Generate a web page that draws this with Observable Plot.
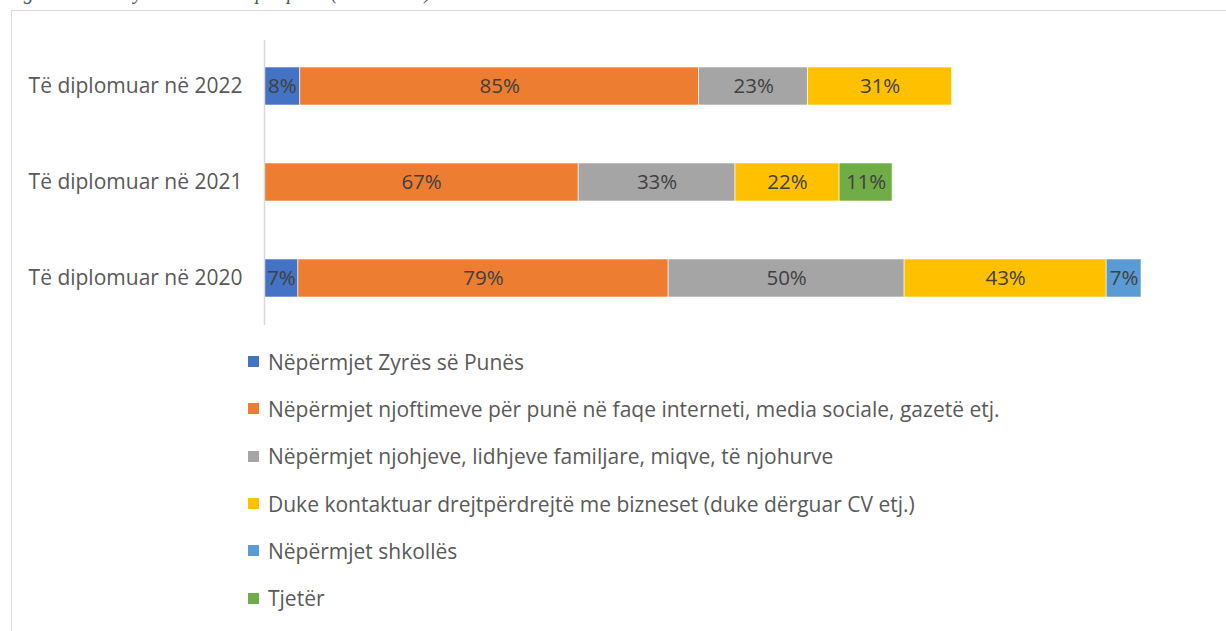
<!DOCTYPE html>
<html>
<head>
<meta charset="utf-8">
<script src="https://cdn.jsdelivr.net/npm/d3@7"></script>
<script src="https://cdn.jsdelivr.net/npm/@observablehq/plot@0.6"></script>
<style>
  html, body { margin: 0; padding: 0; background: #fff; width: 1226px; height: 631px; overflow: hidden; }
  #frame { position: absolute; left: 11px; top: 10px; width: 1300px; height: 700px; border-left: 1.5px solid #d9d9d9; border-top: 1.5px solid #d9d9d9; }
  #caption { position: absolute; left: 6px; top: -19px; font-family: "Liberation Serif", serif; font-style: italic; font-size: 20px; color: #44546A; white-space: nowrap; }
  #chart { position: absolute; left: 0; top: 0; }
  #legend { position: absolute; left: 248px; top: 338px; font-family: "Open Sans", Lato, sans-serif; font-size: 21px; color: #595959; }
  .item { height: 47.3px; display: flex; align-items: center; white-space: nowrap; }
  .sw { width: 11px; height: 11px; margin-right: 9px; flex: none; }
</style>
</head>
<body>
<div id="caption">Figura 30: Mënyrat e kërkimit për punë (2020-2022)</div>
<div id="frame"></div>
<div id="chart"></div>
<div id="legend"></div>
<script>
const categories = ["Të diplomuar në 2022", "Të diplomuar në 2021", "Të diplomuar në 2020"];
const series = [
  "Nëpërmjet Zyrës së Punës",
  "Nëpërmjet njoftimeve për punë në faqe interneti, media sociale, gazetë etj.",
  "Nëpërmjet njohjeve, lidhjeve familjare, miqve, të njohurve",
  "Duke kontaktuar drejtpërdrejtë me bizneset (duke dërguar CV etj.)",
  "Nëpërmjet shkollës",
  "Tjetër"
];
const colors = ["#4472C4", "#ED7D31", "#A5A5A5", "#FFC000", "#5B9BD5", "#70AD47"];
// values per series, in the order of categories (2022, 2021, 2020); null = absent
const zyra      = [7.6, null, 7.2];
const njoftime  = [84.7, 66.7, 78.6];
const njohje    = [23.1, 33.3, 50.1];
const kontakt   = [30.6, 22.1, 42.9];
const shkolla   = [null, null, 7.4];
const tjeter    = [null, 11.25, null];
const seriesValues = [zyra, njoftime, njohje, kontakt, shkolla, tjeter];

const data = [];
series.forEach((s, i) => {
  categories.forEach((c, j) => {
    const v = seriesValues[i][j];
    if (v != null) data.push({category: c, series: s, value: v});
  });
});

const font = "'Open Sans', Lato, sans-serif";

const chart = Plot.plot({
  width: 1226,
  height: 335,
  marginLeft: 264,
  marginRight: 20,
  marginTop: 40,
  marginBottom: 10,
  style: {fontFamily: font, background: "transparent"},
  x: {domain: [0, 200], axis: null},
  y: {domain: categories, paddingInner: 0.6, paddingOuter: 0.284, label: null, tickSize: 0, tickPadding: 22},
  color: {domain: series, range: colors},
  marks: [
    Plot.barX(data, Plot.stackX({x: "value", y: "category", fill: "series", z: "series", order: series, stroke: "#fff", strokeWidth: 0.6})),
    Plot.text(data, Plot.stackX({x: "value", y: "category", z: "series", order: series, text: d => Math.round(d.value) + "%", fill: "#404040", fontSize: 20.5})),
    Plot.ruleX([0], {stroke: "#d9d9d9", strokeWidth: 1.5}),
    Plot.axisY({tickSize: 0, tickPadding: 22, fontSize: 21, color: "#595959", label: null})
  ]
});
document.getElementById("chart").appendChild(chart);

const legend = document.getElementById("legend");
series.forEach((s, i) => {
  const it = document.createElement("div");
  it.className = "item";
  const sw = document.createElement("span");
  sw.className = "sw";
  sw.style.background = colors[i];
  const tx = document.createElement("span");
  tx.textContent = s;
  it.appendChild(sw);
  it.appendChild(tx);
  legend.appendChild(it);
});
</script>
</body>
</html>
